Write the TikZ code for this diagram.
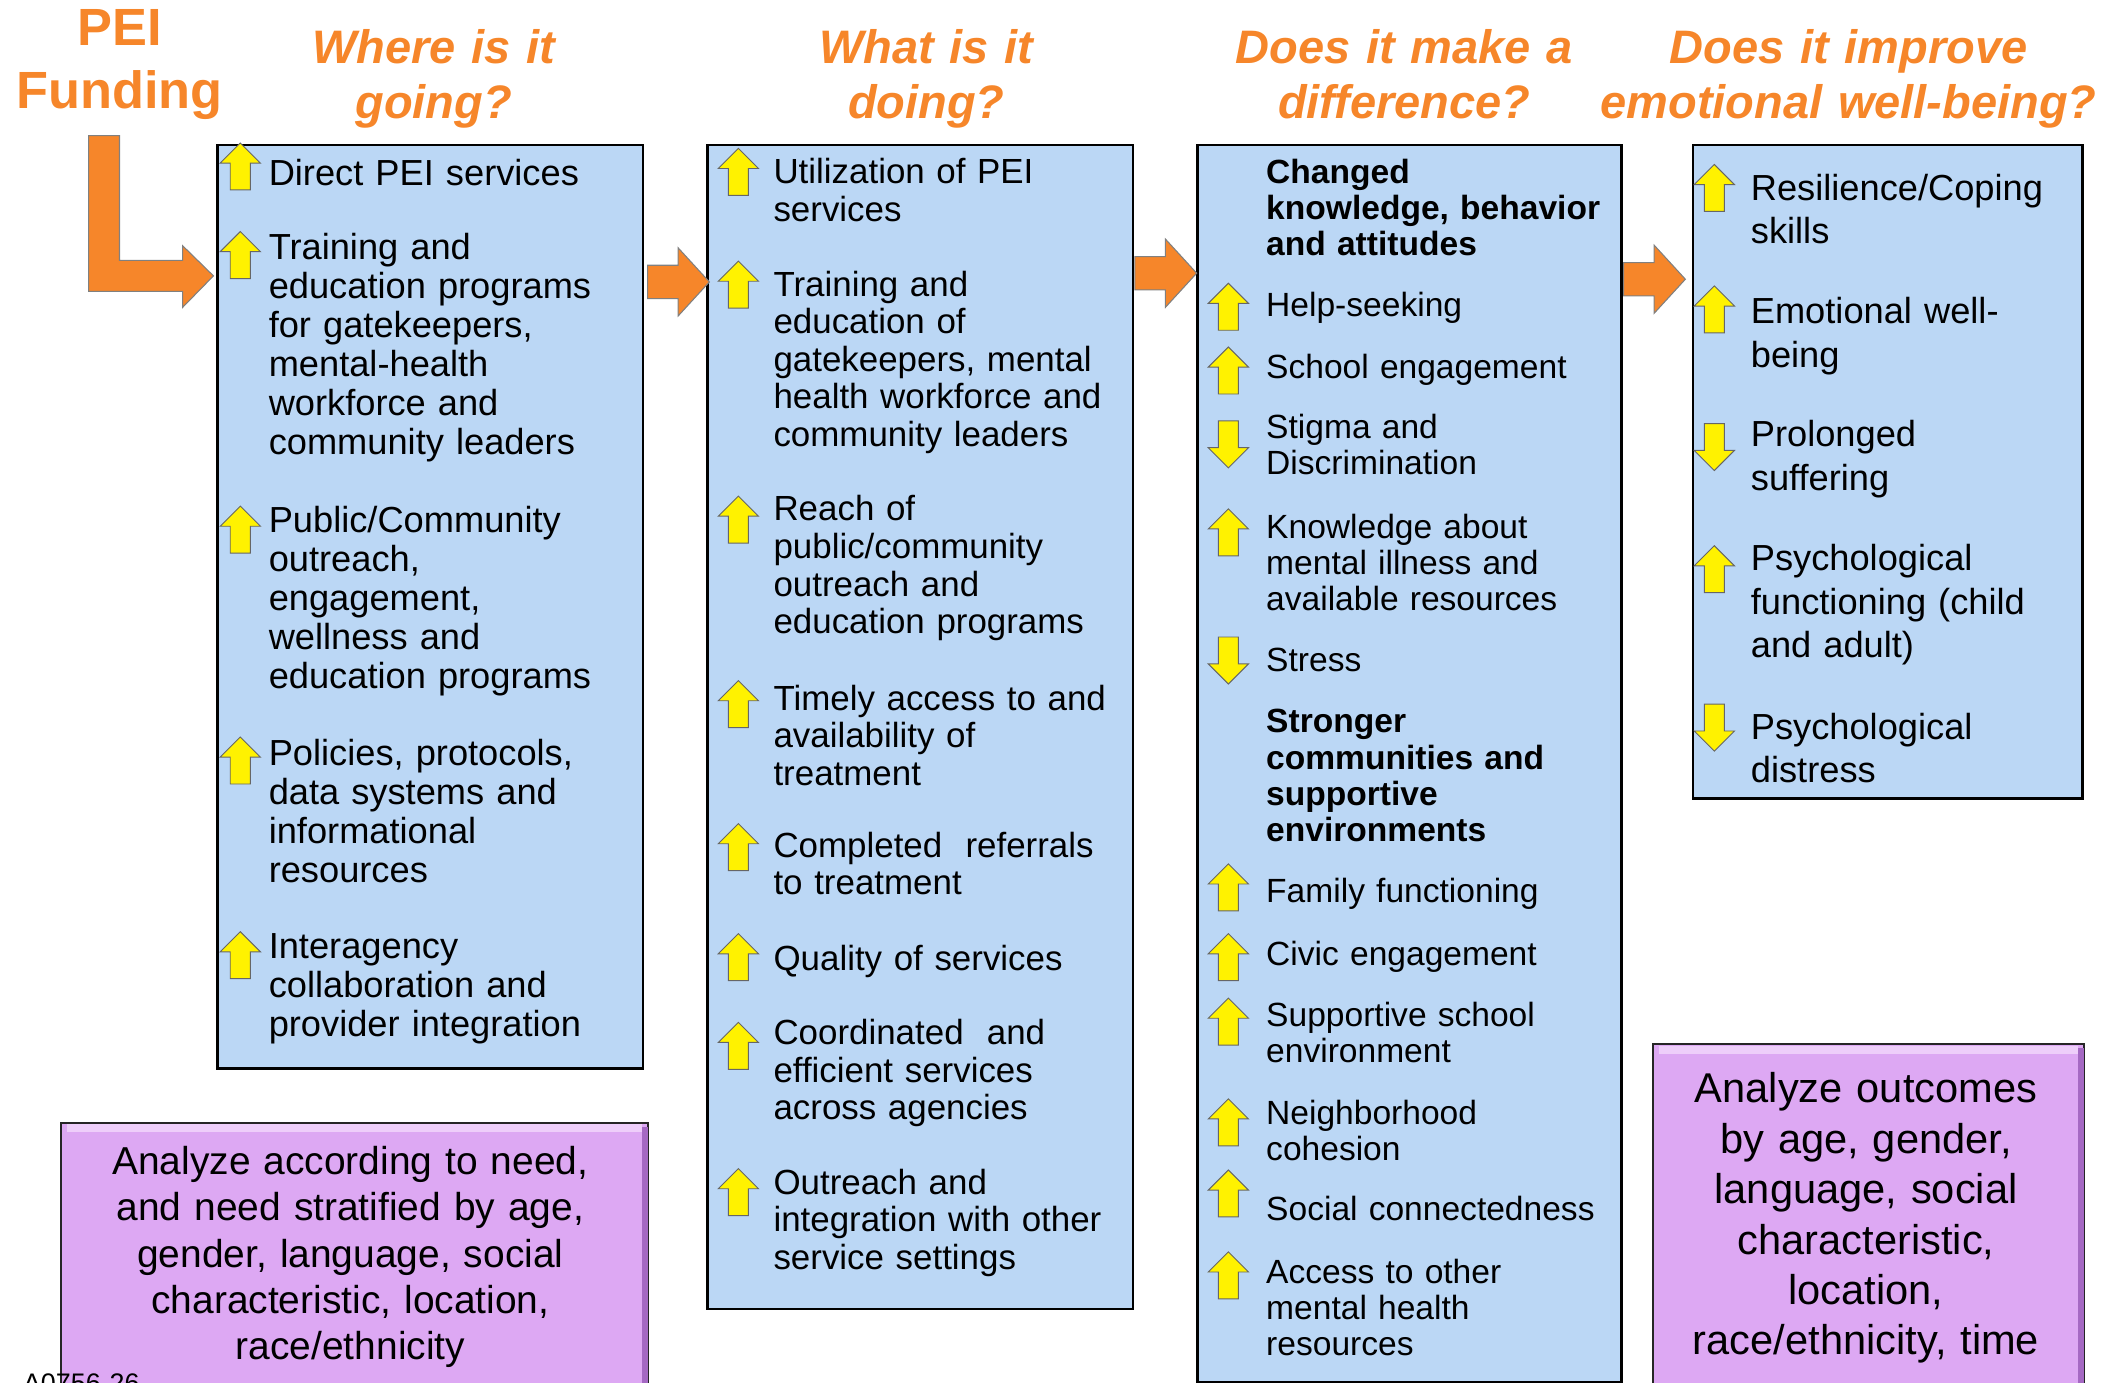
\documentclass[tikz,border=0pt]{standalone}
\usepackage{fontspec}
\setmainfont{Liberation Sans}
\usetikzlibrary{shapes.arrows,positioning}

\definecolor{peiorange}{RGB}{246,134,42}
\definecolor{colblue}{RGB}{187,215,245}
\definecolor{anapurple}{RGB}{221,168,243}
\definecolor{anahigh}{RGB}{238,206,250}
\definecolor{anadark}{RGB}{165,105,195}

\begin{document}
\begin{tikzpicture}[x=1pt, y=-1pt,
		col/.style={draw, line width=2pt, fill=colblue, anchor=north west, inner sep=0pt},
		ana/.style={draw=black!85, line width=1.5pt, fill=anapurple, anchor=north west, inner sep=0pt},
		title/.style={anchor=base, text=peiorange, text width=420pt, align=center, inner sep=0pt, font=\fontsize{35}{41}\selectfont\bfseries\itshape},
		item/.style={anchor=base west, text width=300pt, align=left, inner sep=0pt},
		anatext/.style={anchor=base, text width=420pt, align=center, inner sep=0pt},
		fat/.style={single arrow, draw=black!50, line width=0.8pt, fill=peiorange, anchor=tail, minimum height=46pt, inner xsep=0pt, inner ysep=12pt, single arrow head extend=13pt, single arrow tip angle=95},
		fatline/.style={draw=black!50, line width=0.8pt, fill=peiorange},
		yarrow/.style={draw=black!60, line width=0.7pt, fill=yellow},
		yarr/.pic={\path[yarrow] (0,-17.5) -- (15,-2.5) -- (7.5,-2.5) -- (7.5,17.5) -- (-7.5,17.5) -- (-7.5,-2.5) -- (-15,-2.5) -- cycle;},
	]
		\useasboundingbox (0,0) rectangle (1568,1030);
		\clip (0,0) rectangle (1568,1030);

		\node (fund) [anchor=base, text=peiorange, text width=200pt, align=center, inner sep=0pt, font=\fontsize{39}{47}\selectfont\bfseries] at (89,34) {PEI\\Funding};
		\node (qwhere) [title] at (323,47) {Where is it\\going?};
		\node (qwhat) [title] at (690,47) {What is it\\doing?};
		\node (qdiff) [title] at (1046,47) {Does it make a\\difference?};
		\node (qwell) [title] at (1377,47) {Does it improve\\emotional well-being?};

		\node (where) [col, minimum width=317pt, minimum height=688pt] at (161,107) {};
		\node (what) [col, minimum width=317pt, minimum height=867pt] at (526,107) {};
		\node (diff) [col, minimum width=316pt, minimum height=922pt] at (891,107) {};
		\node (well) [col, minimum width=290pt, minimum height=487pt] at (1260,107) {};

		\draw[fatline] (66,101) -- (89,101) -- (89,194) -- (136,194) -- (136,183) -- (159,205.5) -- (136,229) -- (136,217) -- (66,217) -- cycle;
		\node (go) [fat] at ([shift={(2,103)}]where.north east) {};
		\node (do) [fat] at ([shift={(0,96.5)}]what.north east) {};
		\node (mk) [fat] at ([shift={(0,101)}]diff.north east) {};

		\foreach \d/\b/\a/\t [count=\i] in {
			1/138/124/{Direct PEI services},
			1/193.5/190/{Training and\\education programs\\for gatekeepers,\\mental-health\\workforce and\\community leaders},
			1/397/394.5/{Public/Community\\outreach,\\engagement,\\wellness and\\education programs},
			1/570/566.5/{Policies, protocols,\\data systems and\\informational\\resources},
			1/714/711.5/{Interagency\\collaboration and\\provider integration}}{
			\node (w\i) [item, font=\fontsize{27}{29}\selectfont] at (200,\b) {\t};
			\pic[yscale=\d] at (179,\a) {yarr};
		}

		\foreach \d/\b/\a/\t [count=\i] in {
			1/137/128/{Utilization of PEI\\services},
			1/220.6/212/{Training and\\education of\\gatekeepers, mental\\health workforce and\\community leaders},
			1/388/387/{Reach of\\public/community\\outreach and\\education programs},
			1/529/524.5/{Timely access to and\\availability of\\treatment},
			1/638.6/631/{Completed~ referrals\\to treatment},
			1/722.6/713/{Quality of services},
			1/778/779/{Coordinated~ and\\efficient services\\across agencies},
			1/889.6/888/{Outreach and\\integration with other\\service settings}}{
			\node (m\i) [item, font=\fontsize{26}{28}\selectfont] at (576,\b) {\t};
			\pic[yscale=\d] at (550,\a) {yarr};
		}

		\node (chg) [item, font=\fontsize{25}{26.7}\selectfont\bfseries] at (943,136.6) {Changed\\knowledge, behavior\\and attitudes};
		\node (strong) [item, font=\fontsize{25}{27}\selectfont\bfseries] at (943,546) {Stronger\\communities and\\supportive\\environments};
		\foreach \d/\b/\a/\t [count=\i] in {
			1/236/228.5/{Help-seeking},
			1/281.6/276/{School engagement},
			-1/327/331/{Stigma and\\Discrimination},
			1/401/396.5/{Knowledge about\\mental illness and\\available resources},
			-1/500/492/{Stress},
			1/672.6/661/{Family functioning},
			1/719/713/{Civic engagement},
			1/764.5/761/{Supportive school\\environment},
			1/837.5/836/{Neighborhood\\cohesion},
			1/909.5/889/{Social connectedness},
			1/956/950/{Access to other\\mental health\\resources}}{
			\node (d\i) [item, font=\fontsize{25}{26.8}\selectfont] at (943,\b) {\t};
			\pic[yscale=\d] at (915,\a) {yarr};
		}

		\foreach \d/\b/\a/\t [count=\i] in {
			1/149/140/{Resilience/Coping\\skills},
			1/241/230.5/{Emotional well-\\being},
			-1/332.6/333/{Prolonged\\suffering},
			1/425/424/{Psychological\\functioning (child\\and adult)},
			-1/550.5/542/{Psychological\\distress}}{
			\node (e\i) [item, font=\fontsize{27}{32.5}\selectfont] at (1304,\b) {\t};
			\pic[yscale=\d] at (1277,\a) {yarr};
		}

		\node (need) [ana, minimum width=437pt, minimum height=200pt] at (45,835.5) {};
		\draw[anahigh, line width=6pt] ([shift={(5,5)}]need.north west) -- ([shift={(-5,5)}]need.north east);
		\draw[anadark, line width=4pt] ([shift={(-3,4)}]need.north east) -- ([shift={(-3,0)}]need.south east);
		\node (needtxt) [anatext, font=\fontsize{29}{34.5}\selectfont] at (261,875) {Analyze according to need,\\and need stratified by age,\\gender, language, social\\characteristic, location,\\race/ethnicity};

		\node (out) [ana, minimum width=321pt, minimum height=260pt] at (1230.5,777) {};
		\draw[anahigh, line width=6pt] ([shift={(5,5)}]out.north west) -- ([shift={(-5,5)}]out.north east);
		\draw[anadark, line width=4pt] ([shift={(-3,4)}]out.north east) -- ([shift={(-3,0)}]out.south east);
		\node (outtxt) [anatext, font=\fontsize{31}{37.5}\selectfont] at (1390,821.6) {Analyze outcomes\\by age, gender,\\language, social\\characteristic,\\location,\\race/ethnicity, time};

		\node (code) [anchor=base west, inner sep=0pt, font=\fontsize{20}{24}\selectfont] at (17,1037.5) {A0756-26};
\end{tikzpicture}
\end{document}
